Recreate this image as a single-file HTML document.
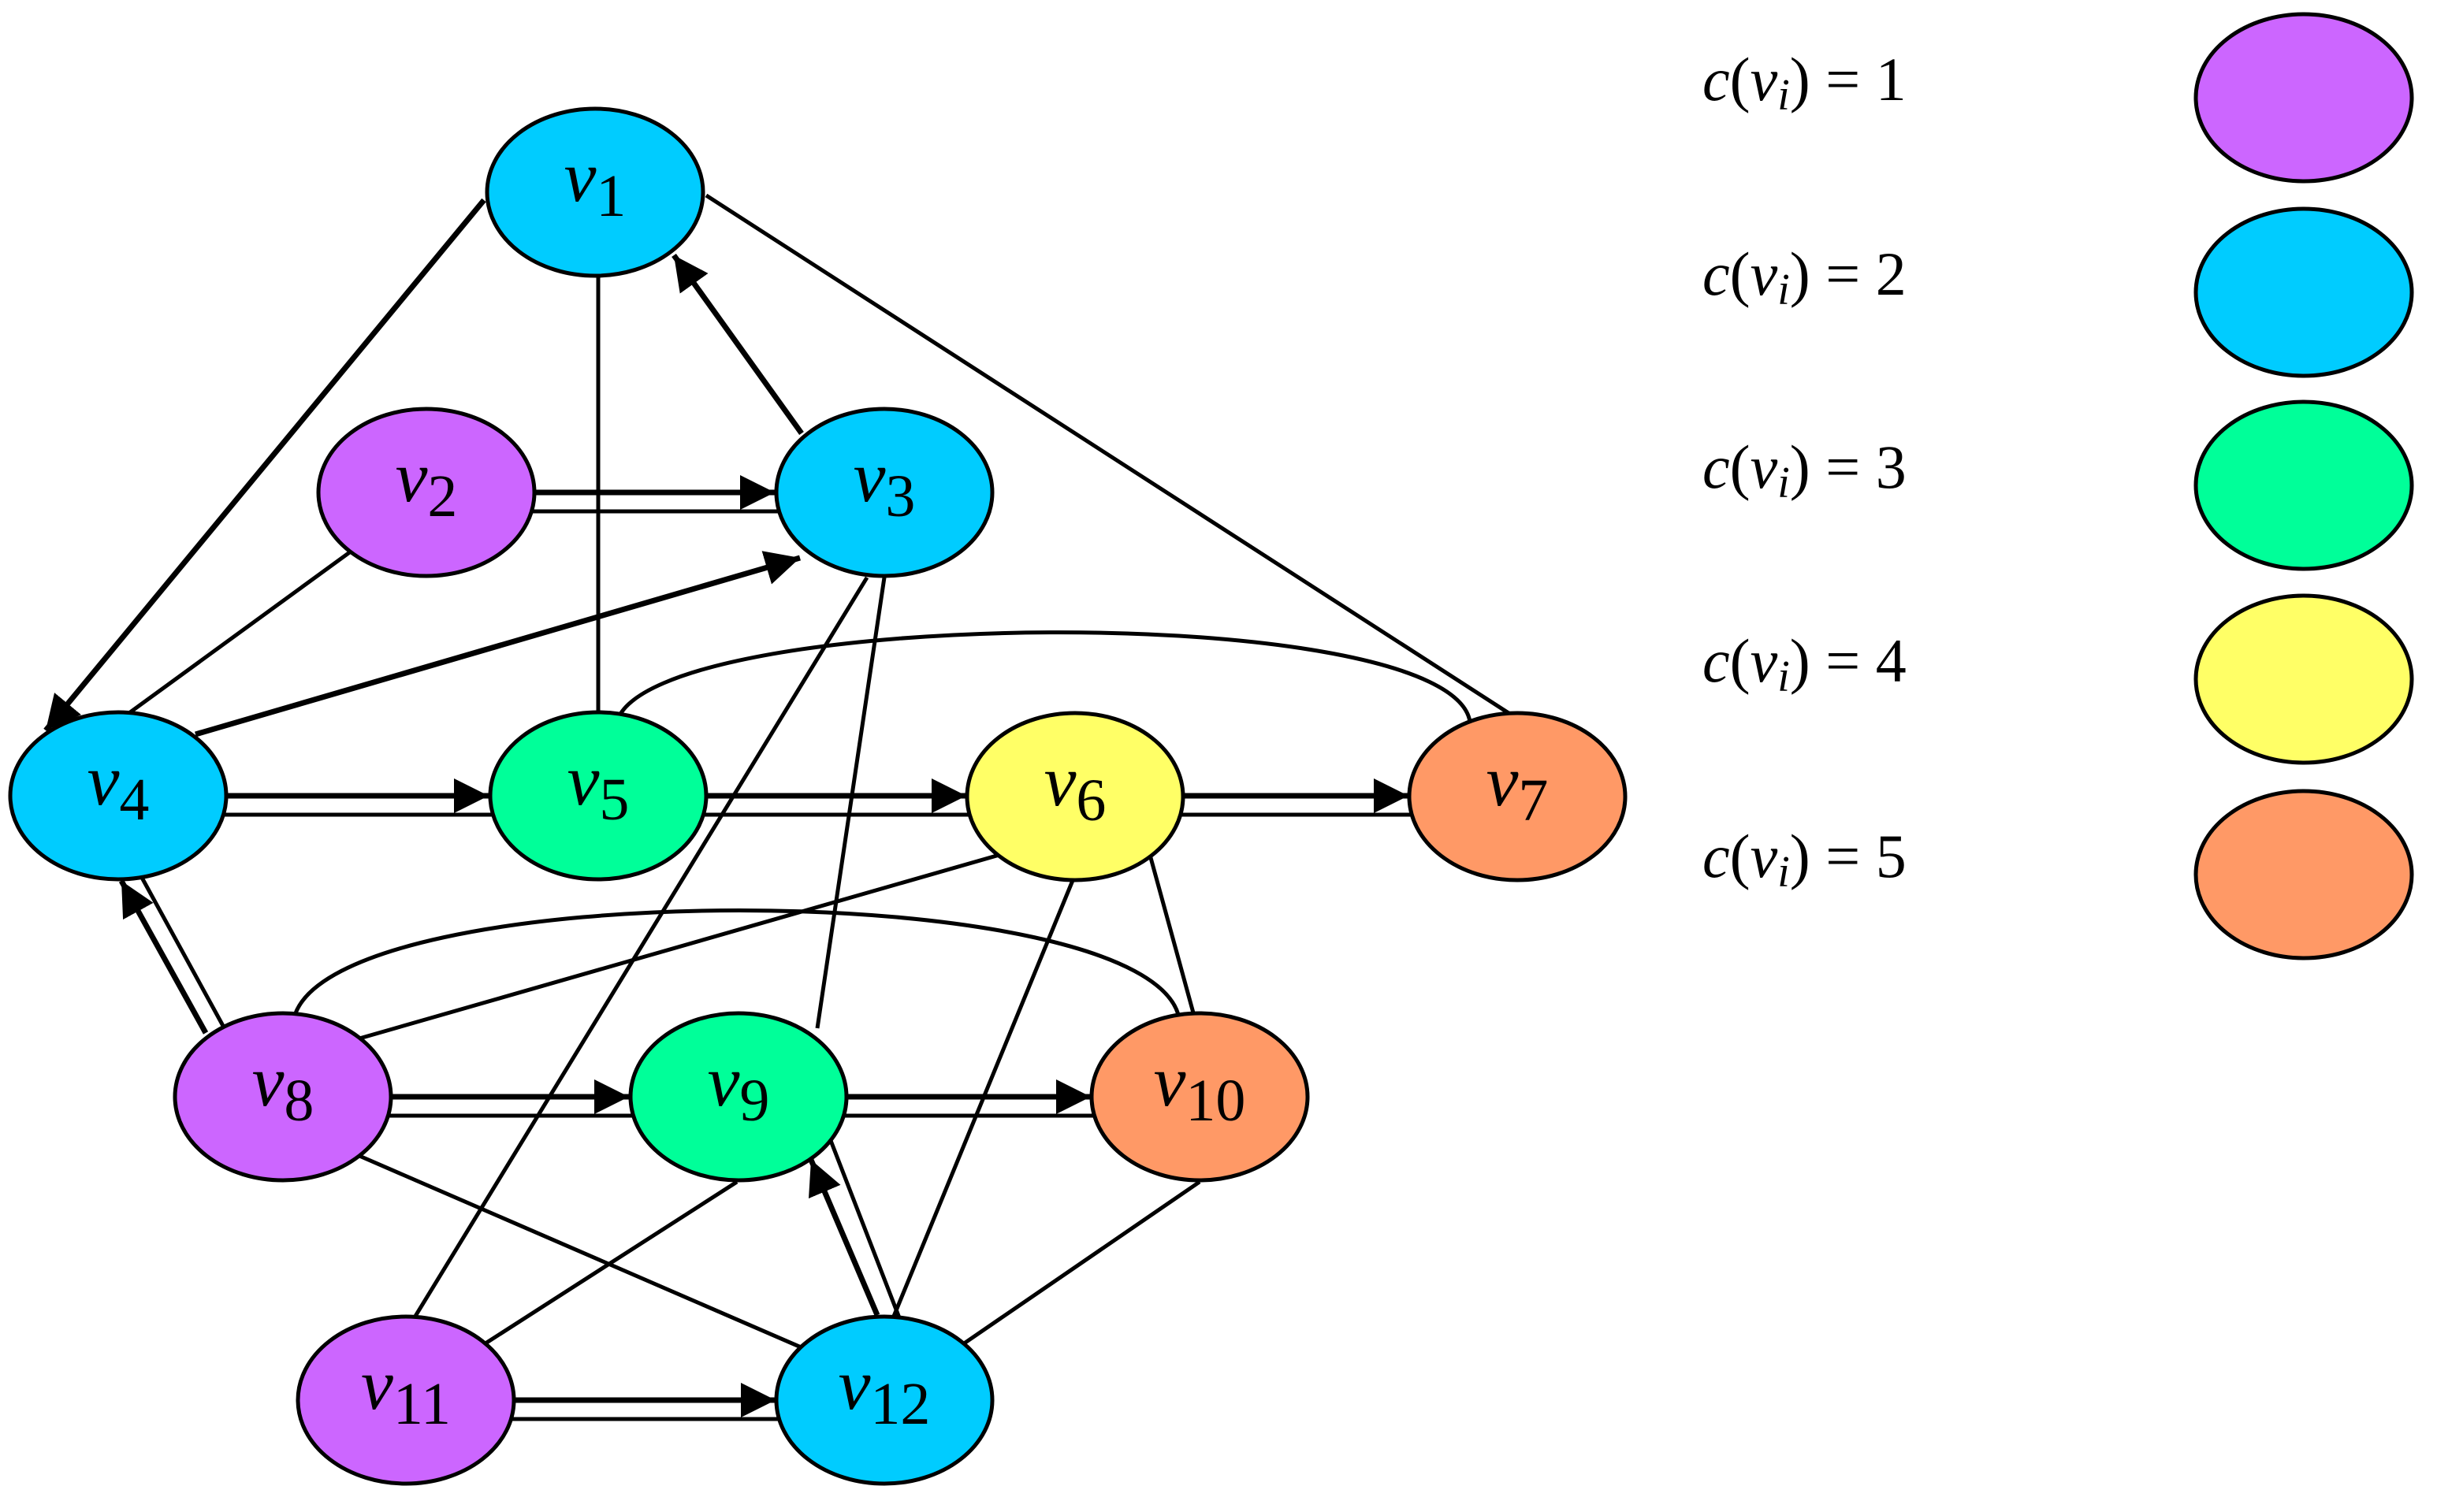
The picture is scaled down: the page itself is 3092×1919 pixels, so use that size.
<!DOCTYPE html>
<html><head><meta charset="utf-8"><style>
html,body{margin:0;padding:0;background:#fff;}
svg{display:block;}
text{font-family:"Liberation Serif","DejaVu Serif",serif;fill:#000;}
</style></head><body>
<svg width="3092" height="1919" viewBox="0 0 3092 1919" xmlns="http://www.w3.org/2000/svg">
<defs>
<marker id="ah" markerUnits="userSpaceOnUse" markerWidth="46" markerHeight="46" viewBox="0 0 46 46" refX="44" refY="22" orient="auto">
<path d="M0,0 L44,22 L0,44 z" fill="#000"/>
</marker>
</defs>
<g stroke="#000" stroke-width="5" fill="none">
<!-- plain edges -->
<line x1="759" y1="300" x2="759" y2="950"/>
<line x1="896" y1="248" x2="1925" y2="912"/>
<line x1="445" y1="700" x2="150" y2="915"/>
<line x1="1100" y1="733" x2="515" y2="1690"/>
<line x1="1122" y1="733" x2="1037" y2="1305"/>
<path d="M783,915 C 830,770 1840,760 1865,916"/>
<path d="M373,1292 C 420,1110 1460,1110 1496,1292"/>
<line x1="456" y1="1318" x2="1268" y2="1085"/>
<line x1="1459" y1="1085" x2="1518" y2="1300"/>
<line x1="1362" y1="1115" x2="1126" y2="1690"/>
<line x1="456" y1="1467" x2="1021" y2="1712"/>
<line x1="935" y1="1500" x2="605" y2="1712"/>
<line x1="1522" y1="1500" x2="1213" y2="1712"/>
<!-- thin parallel lines of double edges -->
<line x1="660" y1="649" x2="1000" y2="649"/>
<line x1="270" y1="1034" x2="640" y2="1034"/>
<line x1="880" y1="1034" x2="1245" y2="1034"/>
<line x1="1490" y1="1034" x2="1810" y2="1034"/>
<line x1="480" y1="1416" x2="815" y2="1416"/>
<line x1="1060" y1="1416" x2="1400" y2="1416"/>
<line x1="640" y1="1801" x2="1000" y2="1801"/>
<line x1="1142" y1="1675" x2="1053" y2="1445"/>
<line x1="283" y1="1302" x2="179" y2="1112"/>
</g>
<!-- nodes -->
<g stroke="#000" stroke-width="5">
<ellipse cx="755" cy="244" rx="137" ry="106" fill="#00CCFF"/>
<ellipse cx="541" cy="625" rx="137" ry="106" fill="#CC66FF"/>
<ellipse cx="1122" cy="625" rx="137" ry="106" fill="#00CCFF"/>
<ellipse cx="150" cy="1010" rx="137" ry="106" fill="#00CCFF"/>
<ellipse cx="759" cy="1010" rx="137" ry="106" fill="#00FF99"/>
<ellipse cx="1364" cy="1011" rx="137" ry="106" fill="#FFFF66"/>
<ellipse cx="1925" cy="1011" rx="137" ry="106" fill="#FF9966"/>
<ellipse cx="359" cy="1392" rx="137" ry="106" fill="#CC66FF"/>
<ellipse cx="937" cy="1392" rx="137" ry="106" fill="#00FF99"/>
<ellipse cx="1522" cy="1392" rx="137" ry="106" fill="#FF9966"/>
<ellipse cx="515" cy="1777" rx="137" ry="106" fill="#CC66FF"/>
<ellipse cx="1122" cy="1777" rx="137" ry="106" fill="#00CCFF"/>
<!-- legend -->
<ellipse cx="2923" cy="124" rx="137" ry="106" fill="#CC66FF"/>
<ellipse cx="2923" cy="371" rx="137" ry="106" fill="#00CCFF"/>
<ellipse cx="2923" cy="616" rx="137" ry="106" fill="#00FF99"/>
<ellipse cx="2923" cy="862" rx="137" ry="106" fill="#FFFF66"/>
<ellipse cx="2923" cy="1110" rx="137" ry="106" fill="#FF9966"/>
</g>
<!-- arrowed thick edges -->
<g stroke="#000" stroke-width="7" fill="none" marker-end="url(#ah)">
<line x1="614" y1="254" x2="58" y2="927"/>
<line x1="1017" y1="550" x2="855" y2="324"/>
<line x1="248" y1="932" x2="1015" y2="708"/>
<line x1="678" y1="625" x2="983" y2="625"/>
<line x1="287" y1="1010" x2="620" y2="1010"/>
<line x1="896" y1="1010" x2="1226" y2="1010"/>
<line x1="1501" y1="1010" x2="1787" y2="1010"/>
<line x1="496" y1="1392" x2="798" y2="1392"/>
<line x1="1074" y1="1392" x2="1384" y2="1392"/>
<line x1="652" y1="1777" x2="984" y2="1777"/>
<line x1="1113" y1="1669" x2="1029" y2="1472"/>
<line x1="261" y1="1311" x2="154" y2="1118"/>
</g>
<!-- node labels -->
<g font-size="92" text-anchor="middle">
<text x="755" y="255"><tspan font-style="italic">v</tspan><tspan font-size="76" dy="19">1</tspan></text>
<text x="541" y="636"><tspan font-style="italic">v</tspan><tspan font-size="76" dy="19">2</tspan></text>
<text x="1122" y="636"><tspan font-style="italic">v</tspan><tspan font-size="76" dy="19">3</tspan></text>
<text x="150" y="1021"><tspan font-style="italic">v</tspan><tspan font-size="76" dy="19">4</tspan></text>
<text x="759" y="1021"><tspan font-style="italic">v</tspan><tspan font-size="76" dy="19">5</tspan></text>
<text x="1364" y="1022"><tspan font-style="italic">v</tspan><tspan font-size="76" dy="19">6</tspan></text>
<text x="1925" y="1022"><tspan font-style="italic">v</tspan><tspan font-size="76" dy="19">7</tspan></text>
<text x="359" y="1403"><tspan font-style="italic">v</tspan><tspan font-size="76" dy="19">8</tspan></text>
<text x="937" y="1403"><tspan font-style="italic">v</tspan><tspan font-size="76" dy="19">9</tspan></text>
<text x="1522" y="1403"><tspan font-style="italic">v</tspan><tspan font-size="76" dy="19">10</tspan></text>
<text x="515" y="1788"><tspan font-style="italic">v</tspan><tspan font-size="76" dy="19">11</tspan></text>
<text x="1122" y="1788"><tspan font-style="italic">v</tspan><tspan font-size="76" dy="19">12</tspan></text>
</g>
<!-- legend labels -->
<g font-size="78">
<text x="2160" y="127"><tspan font-style="italic">c</tspan>(<tspan font-style="italic">v</tspan><tspan font-style="italic" font-size="56" dy="12">i</tspan><tspan dy="-12">) = 1</tspan></text>
<text x="2160" y="374"><tspan font-style="italic">c</tspan>(<tspan font-style="italic">v</tspan><tspan font-style="italic" font-size="56" dy="12">i</tspan><tspan dy="-12">) = 2</tspan></text>
<text x="2160" y="619"><tspan font-style="italic">c</tspan>(<tspan font-style="italic">v</tspan><tspan font-style="italic" font-size="56" dy="12">i</tspan><tspan dy="-12">) = 3</tspan></text>
<text x="2160" y="865"><tspan font-style="italic">c</tspan>(<tspan font-style="italic">v</tspan><tspan font-style="italic" font-size="56" dy="12">i</tspan><tspan dy="-12">) = 4</tspan></text>
<text x="2160" y="1113"><tspan font-style="italic">c</tspan>(<tspan font-style="italic">v</tspan><tspan font-style="italic" font-size="56" dy="12">i</tspan><tspan dy="-12">) = 5</tspan></text>
</g>
</svg>
</body></html>
